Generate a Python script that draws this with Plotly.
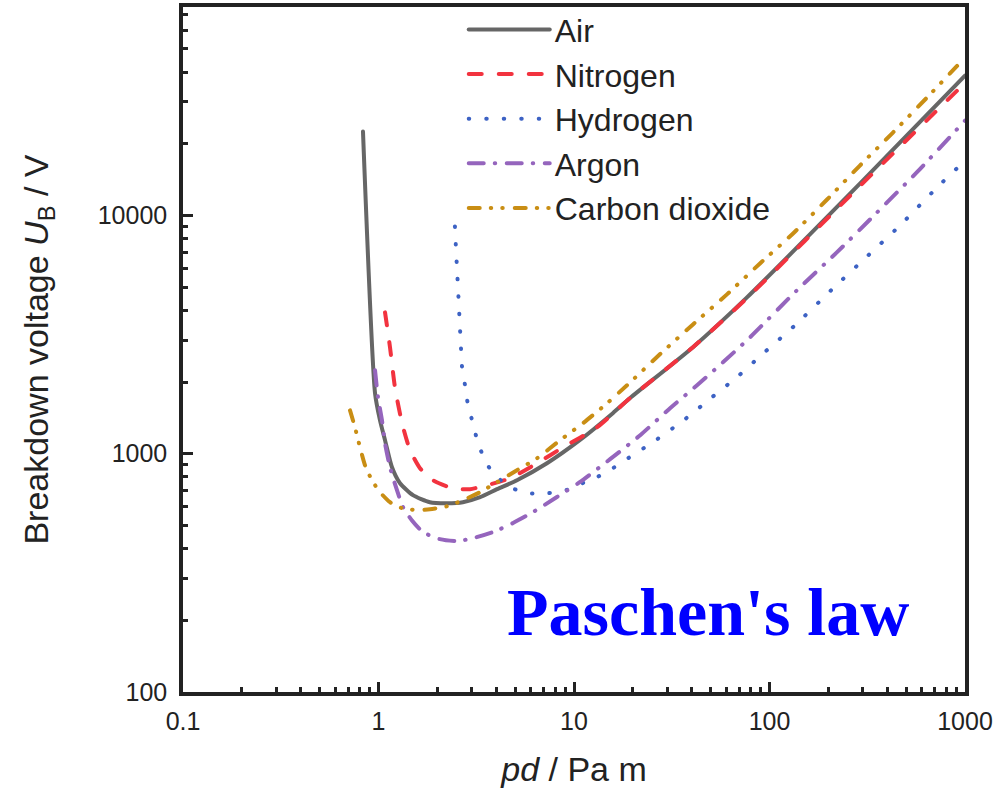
import plotly.graph_objects as go

# ---- data ----
air_x = [0.833, 0.960, 1.018, 1.080, 1.172, 1.288, 1.50, 1.83, 2.24, 2.70, 3.31, 4.04, 5.11, 7.27, 10.7, 15.8, 19.3, 40.6, 76.7, 290, 1000]
air_y = [22500, 1795, 1380, 1140, 877, 752, 670, 626, 620, 626, 657, 710, 774, 912, 1140, 1480, 1710, 2800, 4530, 13600, 38600]

n2_x = [1.08, 1.145, 1.214, 1.32, 1.45, 1.63, 1.90, 2.40, 2.94, 3.59, 4.71, 6.47, 8.80, 13.1, 19.3, 40.6, 76.7, 290, 1000]
n2_y = [3920, 2800, 1900, 1343, 1035, 870, 774, 716, 710, 738, 789, 912, 1065, 1290, 1710, 2800, 4500, 13300, 36000]

h2_x = [2.46, 2.49, 2.52, 2.55, 2.58, 2.61, 2.64, 2.67, 2.77, 2.87, 3.04, 3.23, 3.51, 3.85, 4.71, 5.82, 7.28,
        8.79, 10.7, 13.1, 15.8, 18.9, 26.6, 37.0, 50.8, 69.0, 89.4, 135, 209, 308, 465, 719, 1000]
h2_y = [9000, 7280, 6000, 4990, 4110, 3390, 2820, 2350, 1940, 1600, 1343, 1106, 939, 828, 724, 683, 683,
        696, 745, 797, 869, 957, 1150, 1397, 1727, 2114, 2564, 3460, 4900, 6610, 9080, 13100, 17000]

ar_x = [0.960, 0.994, 1.042, 1.08, 1.145, 1.243, 1.335, 1.48, 1.69, 2.06, 2.52, 3.04, 3.85, 4.88, 6.17, 8.18,
        10.7, 15.3, 21.8, 31.0, 42.6, 57.8, 79.5, 138, 221, 355, 568, 1000]
ar_y = [2240, 1727, 1380, 1106, 877, 703, 597, 526, 469, 438, 430, 442, 469, 512, 569, 658,
        760, 949, 1196, 1553, 1938, 2420, 3080, 4850, 7000, 10300, 15200, 25000]

co2_x = [0.715, 0.758, 0.804, 0.853, 0.926, 1.018, 1.145, 1.32, 1.57, 1.83, 2.24, 2.70, 3.31, 4.04, 5.11, 6.47,
         8.48, 11.1, 14.75, 18.67, 27.5, 40.6, 60.6, 89.4, 132, 197, 290, 428, 639, 1000]
co2_y = [1520, 1290, 1065, 895, 774, 690, 626, 591, 580, 585, 602, 638, 690, 760, 853, 957,
         1139, 1342, 1628, 1938, 2614, 3490, 4665, 6290, 8405, 11670, 16200, 22290, 31250, 45970]

x_tick_vals = [0.1, 1, 10, 100, 1000]
x_tick_text = ["0.1", "1", "10", "100", "1000"]
y_tick_vals = [100, 1000, 10000]
y_tick_text = ["100", "1000", "10000"]

series = [
    ("Air", air_x, air_y, "#666666", "solid", 4),
    ("Nitrogen", n2_x, n2_y, "#F2333F", "13px,17px", 4),
    ("Hydrogen", h2_x, h2_y, "#3D62C4", "0.5px,17px", 4),
    ("Argon", ar_x, ar_y, "#9565BD", "15px,11px,0.5px,11.5px", 4),
    ("Carbon dioxide", co2_x, co2_y, "#C98E14", "11px,11px,0.5px,11px,0.5px,12px", 4),
]

fig = go.Figure()
for name, xs, ys, col, dash, w in series:
    fig.add_trace(go.Scatter(
        x=xs, y=ys, mode="lines", name=name,
        line=dict(color=col, dash=dash, width=w, shape="spline", smoothing=0.6),
    ))

axis_common = dict(
    type="log",
    showline=True, linecolor="#222222", linewidth=3.5, mirror=True,
    ticks="inside", ticklen=10, tickwidth=3, tickcolor="#222222",
    showgrid=False, zeroline=False,
    tickfont=dict(family="Liberation Sans, Arial", size=25, color="#222222"),
    minor=dict(ticks="inside", ticklen=5, tickwidth=2.5, tickcolor="#222222", dtick="D1", showgrid=False),
)

fig.update_xaxes(
    **axis_common,
    range=[-1, 3],
    tickvals=x_tick_vals, ticktext=x_tick_text,
    title=dict(text="<i>pd</i> / Pa m", font=dict(family="Liberation Sans, Arial", size=34, color="#222222"), standoff=24),
    ticklabelstandoff=4,
)
fig.update_yaxes(
    **axis_common,
    range=[2, 4.875],
    tickvals=y_tick_vals, ticktext=y_tick_text,
    title=dict(text="Breakdown voltage <i>U</i><sub>B</sub> / V", font=dict(family="Liberation Sans, Arial", size=34, color="#222222"), standoff=40),
    ticklabelstandoff=7,
)

fig.add_annotation(
    text="<b>Paschen's law</b>", xref="paper", yref="paper",
    x=0.671, y=0.117, xanchor="center", yanchor="middle", showarrow=False,
    font=dict(family="Liberation Serif, Times New Roman, serif", size=68, color="#0000FF"),
)

fig.update_layout(
    width=1001, height=794,
    margin=dict(l=183, r=36, t=7, b=102, autoexpand=False),
    plot_bgcolor="white", paper_bgcolor="white",
    showlegend=True,
    legend=dict(
        x=0.359, y=1.007, xanchor="left", yanchor="top",
        bgcolor="rgba(0,0,0,0)", borderwidth=0,
        font=dict(family="Liberation Sans, Arial", size=32, color="#222222"),
        itemwidth=81, tracegroupgap=0,
    ),
)

css_js = (
    "var s=document.createElement('style');"
    "s.textContent='body{margin:0;} path.js-line{stroke-linecap:round;}';"
    "document.head.appendChild(s);"
)
fig.write_html("out.html", post_script=css_js, config={"displayModeBar": False})
